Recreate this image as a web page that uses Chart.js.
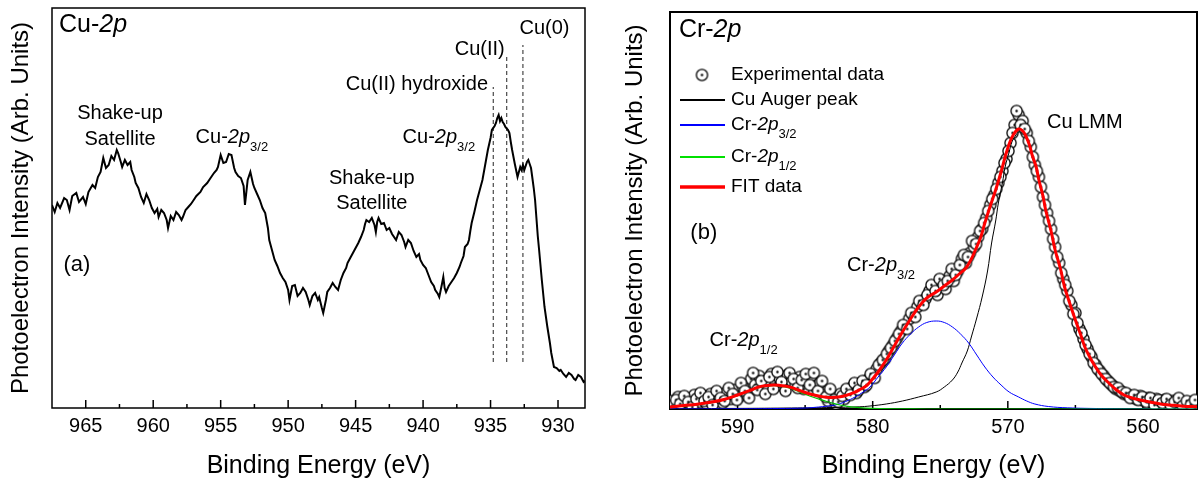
<!DOCTYPE html>
<html>
<head>
<meta charset="utf-8">
<script src="https://cdn.jsdelivr.net/npm/chart.js@4.4.1/dist/chart.umd.min.js"></script>
<style>
  html, body { margin: 0; padding: 0; background: #fff; }
  #wrap { position: relative; width: 1204px; height: 485px; }
  canvas { position: absolute; top: 0; }
  #cuChart { left: 0; }
  #crChart { left: 614px; }
</style>
</head>
<body>
<div id="wrap">
  <canvas id="cuChart" width="600" height="485"></canvas>
  <canvas id="crChart" width="590" height="485"></canvas>
</div>
<script>
// ---- panel (a): Cu-2p spectrum ----
var cuEnergy = [967.5,967.3,967.1,966.9,966.6,966.4,966.2,966.0,965.7,965.5,965.2,965.0,964.8,964.5,964.3,964.1,963.9,963.7,963.5,963.3,963.1,962.9,962.7,962.6,962.4,962.3,962.1,961.9,961.7,961.6,961.4,961.3,961.1,960.9,960.7,960.5,960.3,960.1,959.9,959.7,959.6,959.4,959.2,959.0,958.9,958.7,958.5,958.3,958.1,957.9,957.8,957.6,957.4,957.2,957.0,956.8,956.5,956.3,956.0,955.8,955.5,955.3,955.2,955.0,954.8,954.6,954.4,954.2,954.0,953.9,953.7,953.5,953.3,953.2,953.0,952.8,952.6,952.5,952.3,952.1,951.9,951.7,951.5,951.4,951.2,951.0,950.8,950.6,950.4,950.2,950.0,949.9,949.7,949.5,949.3,949.1,948.9,948.7,948.5,948.4,948.2,948.0,947.8,947.7,947.5,947.4,947.2,947.1,946.9,946.7,946.5,946.3,946.1,945.9,945.7,945.6,945.4,945.2,945.0,944.8,944.6,944.4,944.3,944.2,944.0,943.8,943.6,943.5,943.4,943.3,943.1,942.9,942.7,942.5,942.3,942.0,941.8,941.6,941.4,941.3,941.1,940.9,940.7,940.5,940.3,940.2,940.0,939.8,939.6,939.4,939.2,939.1,938.9,938.8,938.6,938.5,938.4,938.3,938.1,937.9,937.7,937.5,937.3,937.2,937.0,936.9,936.7,936.6,936.5,936.4,936.2,936.0,935.8,935.6,935.4,935.2,935.0,934.9,934.7,934.6,934.5,934.4,934.3,934.2,934.1,934.0,933.9,933.7,933.6,933.5,933.4,933.2,933.0,932.9,932.8,932.7,932.6,932.5,932.3,932.2,932.1,932.0,931.9,931.8,931.7,931.6,931.5,931.4,931.2,931.0,930.8,930.6,930.5,930.3,930.1,929.9,929.8,929.6,929.4,929.2,929.0,928.8,928.7,928.5,928.3,928.1,928.0];
var cuCounts = [203,196,205,200,210,208,198,212,215,206,211,204,216,223,220,231,236,250,240,243,252,248,258,255,246,241,248,243,246,238,231,225,220,211,205,214,208,200,195,199,191,198,195,188,180,192,188,196,193,188,191,198,201,204,208,212,216,221,225,229,235,238,241,253,245,246,254,253,240,236,232,230,222,203,228,236,224,220,214,208,200,195,180,168,158,148,142,135,130,126,118,108,122,123,112,115,120,116,108,103,112,115,108,111,100,95,108,116,120,125,121,118,128,135,140,145,150,155,160,165,171,178,184,188,186,190,183,176,186,190,184,185,178,180,174,168,176,173,166,161,168,165,157,151,154,148,143,140,133,126,122,118,114,111,124,131,120,116,122,126,130,135,141,145,152,161,164,168,177,185,196,208,218,228,243,258,270,278,282,285,290,293,287,290,286,284,281,278,275,266,258,244,231,236,241,238,243,238,246,248,244,240,230,220,208,190,172,158,128,101,82,65,55,41,40,37,38,34,31,35,33,29,28,33,31,26,27];
var cuTicks = [965, 960, 955, 950, 945, 940, 935, 930];
var cuMinorTicks = [962.5, 957.5, 952.5, 947.5, 942.5, 937.5, 932.5];
var cuRefEnergy = [934.8, 933.8, 932.6];   // Cu(II) hydroxide, Cu(II), Cu(0)
var cuRefTop = [321, 351, 363];
var cuRefBottom = 46;

// ---- panel (b): Cr-2p region ----
var expEnergy = [595.0,594.7,594.4,594.1,593.8,593.5,593.2,592.9,592.6,592.3,592.0,591.7,591.4,591.1,590.8,590.5,590.2,589.9,589.6,589.3,589.0,588.7,588.4,588.1,587.8,587.5,587.2,586.9,586.6,586.3,586.0,585.7,585.4,585.1,584.8,584.5,584.2,583.9,583.6,583.3,583.0,582.7,582.4,582.1,581.8,581.5,581.2,580.9,580.6,580.3,580.0,579.7,579.4,579.1,578.8,578.5,578.2,577.9,577.6,577.3,577.0,576.7,576.4,576.1,575.8,575.5,575.2,574.9,574.6,574.3,574.0,573.7,573.4,573.1,572.8,572.5,572.2,571.9,571.6,571.3,571.0,570.7,570.4,570.1,569.8,569.5,569.2,568.9,568.6,568.3,568.0,567.7,567.4,567.1,566.8,566.5,566.2,565.9,565.6,565.3,565.0,564.7,564.4,564.1,563.8,563.5,563.2,562.9,562.6,562.3,562.0,561.7,561.4,561.1,560.8,560.5,560.2,559.9,559.6,559.3,559.0,558.7,558.4,558.1,557.8,557.5,557.2,556.9,556.6,556.3,556.0];
var expCounts = [8,4,12,6,10,3,14,7,11,5,15,9,13,6,17,10,19,12,22,14,30,24,33,22,29,35,26,31,22,34,28,24,32,20,27,33,22,26,14,8,12,5,15,10,18,22,16,25,22,30,34,40,46,50,58,64,71,78,82,90,94,102,106,110,118,122,114,126,120,133,128,138,150,146,156,162,172,180,191,204,214,226,238,250,266,284,294,288,276,262,244,232,212,196,180,162,146,130,118,104,96,80,70,60,52,44,38,33,28,24,20,18,15,14,12,10,13,8,11,6,10,5,9,4,8,3,7,2,6,3,5];
var expEnergy2 = [594.85,594.55,594.25,593.95,593.65,593.35,593.05,592.75,592.45,592.15,591.85,591.55,591.25,590.95,590.65,590.35,590.05,589.75,589.45,589.15,588.85,588.55,588.25,587.95,587.65,587.35,587.05,586.75,586.45,586.15,585.85,585.55,585.25,584.95,584.65,584.35,584.05,583.75,583.45,583.15,582.85,582.55,582.25,581.95,581.65,581.35,581.05,580.75,580.45,580.15,579.85,579.55,579.25,578.95,578.65,578.35,578.05,577.75,577.45,577.15,576.85,576.55,576.25,575.95,575.65,575.35,575.05,574.75,574.45,574.15,573.85,573.55,573.25,572.95,572.65,572.35,572.05,571.75,571.45,571.15,570.85,570.55,570.25,569.95,569.65,569.35,569.05,568.75,568.45,568.15,567.85,567.55,567.25,566.95,566.65,566.35,566.05,565.75,565.45,565.15,564.85,564.55,564.25,563.95,563.65,563.35,563.05,562.75,562.45,562.15,561.85,561.55,561.25,560.95,560.65,560.35,560.05,559.75,559.45,559.15,558.85,558.55,558.25,557.95,557.65,557.35,557.05,556.75,556.45,556.15];
var expCounts2 = [3,9,5,13,7,2,10,16,8,12,4,18,11,8,21,15,9,26,18,11,36,19,28,15,32,20,37,27,18,36,30,21,29,35,24,36,18,28,12,20,9,7,13,20,14,26,19,28,24,35,31,44,49,55,61,68,75,84,80,96,92,108,104,114,124,118,130,124,128,140,134,144,154,152,168,165,178,186,198,210,220,232,246,258,276,298,284,280,268,252,238,222,204,188,170,152,136,124,108,95,86,76,64,55,46,40,35,30,26,22,21,17,16,11,14,9,12,7,11,4,9,6,10,4,7,11,3,8,4,9];

var fitEnergy = [595,594,593,592,591,590,589,588.5,588,587.3,586.5,586,585.5,585,584.5,584,583.4,583,582.4,582,581.4,581,580.5,580.2,579.6,579,578.4,577.8,577.2,576.6,576,575.3,574.7,574.1,573.6,573.1,572.7,572.4,572,571.7,571.3,570.9,570.5,570.2,569.9,569.6,569.2,568.9,568.7,568.4,568.2,567.9,567.7,567.4,567.2,566.8,566.5,566.1,565.8,565.4,565,564.6,564.3,563.9,563.6,563.1,562.6,562,561.4,560.8,560.2,559.5,558.7,558,557,556];
var fitCounts = [2,3.5,4.8,6.8,9.5,14,19,21.7,23.2,24,23,21.5,19,16.5,14.5,13,11.7,11.5,12.3,13.5,16.3,19,23,27,37,49,63,77,90,102,111,117,123,129,135,141,150,159,172,186,203,219,237,252,265,274,280,278,274,264,254,242,229,213,199,178,159,140,122,105,89,74,62,51,44,34,27,19.5,14,11,9,7,5,4,2.8,2.2];

var augerEnergy = [595,590,586,583,581,580.2,579,577.8,576.6,575.3,574.7,574.1,573.7,573.4,573,572.7,572.3,571.9,571.5,571.2,570.9,570.7,570.4,570.2,569.9,569.7,569.4,569.2,568.9,568.7,568.4,568.2,567.9,567.7,567.4,567.2,566.8,566.5,566.1,565.8,565.4,565,564.6,564.3,563.9,563.6,563.1,562.6,562,561.4,560.8,560.2,559.5,558.7,558,557,556];
var augerCounts = [0.3,0.6,1,1.5,2.2,3,5,8,12,17,22,29,37,46,58,72,91,112,138,166,188,206,226,242,257,267,274,277,276,272,263,252,240,227,212,198,177,158,139,121,104,88,73,61,50.5,43,33.5,26,19,13.5,10.5,8.5,6.8,4.8,3.8,2.7,2.1];

var p32Energy = [595,590,587,585,584,583,582.5,582,581.3,580.7,580.2,579.6,579,578.4,577.8,577.2,576.6,576,575.3,574.7,574.1,573.5,572.9,572.3,571.7,571.1,570.5,569.9,569.2,568.6,568,567,565.6,563,560,556];
var p32Counts = [0,0.2,0.5,1,2,3.5,5,7.5,12,17,22,32,42,54,66,75,82,86.5,88,86.5,82,75,66,54,42,32,24,17,12,8,5,2.5,1.2,0.4,0.1,0];

var p12Energy = [595,594,593,592,591,590,589,588.5,588,587.3,586.5,586,585.5,585,584.5,584,583.4,583,582.4,582,581.4,580.5,579.5,578,576,556];
var p12Counts = [1.7,2.8,4.2,6.2,9,13.4,18.5,21,22.6,23.3,22,20.2,17.5,14.8,12.2,10,7.5,6,4,3,1.8,0.8,0.3,0.1,0,0];

var crTicks = [590, 580, 570, 560];
var crMinorTicks = [585, 575, 565];

var FONT = '"Liberation Sans", Arial, Helvetica, sans-serif';

function pairs(xs, ys) {
    return xs.map(function(x, i) { return {x: x, y: ys[i]}; });
}

// draws "Cu-" + italic "2p" + subscript "3/2" style text
function drawRich(ctx, x, y, parts, size, align) {
    function fontFor(st) {
        if (st === 'i') return 'italic ' + size + 'px ' + FONT;
        if (st === 's') return Math.round(size * 0.66) + 'px ' + FONT;
        return size + 'px ' + FONT;
    }
    var w = 0;
    parts.forEach(function(p) { ctx.font = fontFor(p[1]); w += ctx.measureText(p[0]).width; });
    var cx = align === 'center' ? x - w / 2 : (align === 'right' ? x - w : x);
    ctx.textAlign = 'left';
    ctx.textBaseline = 'middle';
    ctx.fillStyle = '#000';
    parts.forEach(function(p) {
        ctx.font = fontFor(p[1]);
        ctx.fillText(p[0], cx, p[1] === 's' ? y + size * 0.5 : y);
        cx += ctx.measureText(p[0]).width;
    });
}

function framePlugin(major, minor, width) {
    return {
        id: 'frame',
        beforeDatasetsDraw: function(chart) {
            var ctx = chart.ctx, a = chart.chartArea, x = chart.scales.x;
            ctx.save();
            ctx.strokeStyle = '#000';
            ctx.lineWidth = width;
            ctx.strokeRect(a.left, a.top, a.right - a.left, a.bottom - a.top);
            ctx.lineWidth = 1.5;
            major.forEach(function(v) {
                var px = x.getPixelForValue(v);
                ctx.beginPath(); ctx.moveTo(px, a.bottom); ctx.lineTo(px, a.bottom - 8); ctx.stroke();
            });
            minor.forEach(function(v) {
                var px = x.getPixelForValue(v);
                ctx.beginPath(); ctx.moveTo(px, a.bottom); ctx.lineTo(px, a.bottom - 4); ctx.stroke();
            });
            ctx.restore();
        }
    };
}

function notesPlugin(notes) {
    return {
        id: 'notes',
        afterDatasetsDraw: function(chart) {
            var ctx = chart.ctx;
            ctx.save();
            notes.forEach(function(n) {
                drawRich(ctx, chart.scales.x.getPixelForValue(n.e), chart.scales.y.getPixelForValue(n.v), n.parts, n.size, n.align);
            });
            ctx.restore();
        }
    };
}

// open circle with a centre dot, like the Origin marker
function makeMarker() {
    var c = document.createElement('canvas');
    c.width = 15; c.height = 15;
    var g = c.getContext('2d');
    g.beginPath(); g.arc(7.5, 7.5, 5.6, 0, Math.PI * 2);
    g.fillStyle = '#fff'; g.fill();
    g.lineWidth = 1.3; g.strokeStyle = '#000'; g.stroke();
    g.beginPath(); g.arc(7.5, 7.5, 1.2, 0, Math.PI * 2);
    g.fillStyle = '#000'; g.fill();
    return c;
}
var marker = makeMarker();

function legendPlugin(rows) {
    return {
        id: 'crLegend',
        afterDatasetsDraw: function(chart) {
            var ctx = chart.ctx, a = chart.chartArea;
            ctx.save();
            rows.forEach(function(r) {
                var y = a.top + r.dy;
                if (r.marker) {
                    ctx.drawImage(marker, a.left + 32 - 7.5, y - 7.5);
                } else {
                    ctx.strokeStyle = r.color;
                    ctx.lineWidth = r.width;
                    ctx.beginPath(); ctx.moveTo(a.left + 10, y); ctx.lineTo(a.left + 55, y); ctx.stroke();
                }
                drawRich(ctx, a.left + 61, y, r.parts, 19, 'left');
            });
            ctx.restore();
        }
    };
}

function xScale(min, max, ticks, height) {
    return {
        type: 'linear',
        reverse: true,
        min: min,
        max: max,
        afterBuildTicks: function(s) { s.ticks = ticks.map(function(v) { return {value: v}; }); },
        afterFit: function(s) { s.height = height; },
        grid: { display: false, drawTicks: false },
        border: { display: false },
        ticks: { color: '#000', font: { size: 20, family: FONT }, padding: 6, maxRotation: 0, autoSkip: false },
        title: { display: true, text: 'Binding Energy (eV)', color: '#000', font: { size: 25, family: FONT }, padding: { top: 0, bottom: 4 } }
    };
}

function yScale(max, width) {
    return {
        min: 0,
        max: max,
        afterFit: function(s) { s.width = width; },
        grid: { display: false, drawTicks: false },
        border: { display: false },
        ticks: { display: false },
        title: { display: true, text: 'Photoelectron Intensity (Arb. Units)', color: '#000', font: { size: 24, family: FONT }, padding: { top: 7, bottom: 0 } }
    };
}

// ---- chart (a) ----
var cuDatasets = [
    { data: pairs(cuEnergy, cuCounts), borderColor: '#000', borderWidth: 2, pointRadius: 0, tension: 0 }
];
cuRefEnergy.forEach(function(e, i) {
    cuDatasets.push({
        data: [{x: e, y: cuRefBottom}, {x: e, y: cuRefTop[i]}],
        borderColor: '#222', borderWidth: 1, borderDash: [4, 3], pointRadius: 0
    });
});

var cuNotes = [
    { e: 966.98, v: 383, parts: [['Cu-', 'n'], ['2p', 'i']], size: 25, align: 'left' },
    { e: 962.46, v: 295, parts: [['Shake-up', 'n']], size: 20, align: 'center' },
    { e: 962.46, v: 269, parts: [['Satellite', 'n']], size: 20, align: 'center' },
    { e: 954.17, v: 271, parts: [['Cu-', 'n'], ['2p', 'i'], ['3/2', 's']], size: 20, align: 'center' },
    { e: 943.8, v: 230, parts: [['Shake-up', 'n']], size: 20, align: 'center' },
    { e: 943.8, v: 205, parts: [['Satellite', 'n']], size: 20, align: 'center' },
    { e: 938.83, v: 271, parts: [['Cu-', 'n'], ['2p', 'i'], ['3/2', 's']], size: 20, align: 'center' },
    { e: 940.46, v: 324, parts: [['Cu(II) hydroxide', 'n']], size: 20, align: 'center' },
    { e: 935.8, v: 359, parts: [['Cu(II)', 'n']], size: 20, align: 'center' },
    { e: 931.0, v: 380, parts: [['Cu(0)', 'n']], size: 20, align: 'center' },
    { e: 965.65, v: 143, parts: [['(a)', 'n']], size: 22, align: 'center' }
];

new Chart(document.getElementById('cuChart'), {
    type: 'line',
    data: { datasets: cuDatasets },
    options: {
        responsive: false,
        animation: false,
        events: [],
        layout: { padding: { top: 8, right: 15, left: 0, bottom: 0 } },
        plugins: { legend: { display: false }, tooltip: { enabled: false } },
        scales: {
            x: xScale(928, 967.5, cuTicks, 77),
            y: yScale(400, 52)
        }
    },
    plugins: [framePlugin(cuTicks, cuMinorTicks, 1.5), notesPlugin(cuNotes)]
});

// ---- chart (b) ----
var crNotes = [
    { e: 594.34, v: 379, parts: [['Cr-', 'n'], ['2p', 'i']], size: 25, align: 'left' },
    { e: 592.5, v: 176, parts: [['(b)', 'n']], size: 22, align: 'center' },
    { e: 564.3, v: 287, parts: [['Cu LMM', 'n']], size: 20, align: 'center' },
    { e: 581.9, v: 144, parts: [['Cr-', 'n'], ['2p', 'i'], ['3/2', 's']], size: 20, align: 'left' },
    { e: 592.07, v: 69, parts: [['Cr-', 'n'], ['2p', 'i'], ['1/2', 's']], size: 20, align: 'left' }
];

var crLegendRows = [
    { dy: 63, marker: true, parts: [['Experimental data', 'n']] },
    { dy: 88, color: '#000', width: 2, parts: [['Cu Auger peak', 'n']] },
    { dy: 113, color: '#0000ff', width: 2, parts: [['Cr-', 'n'], ['2p', 'i'], ['3/2', 's']] },
    { dy: 145, color: '#00e000', width: 2, parts: [['Cr-', 'n'], ['2p', 'i'], ['1/2', 's']] },
    { dy: 175, color: '#ff0000', width: 3.5, parts: [['FIT data', 'n']] }
];

var expPoints = pairs(expEnergy, expCounts).concat(pairs(expEnergy2, expCounts2));

new Chart(document.getElementById('crChart'), {
    type: 'line',
    data: {
        datasets: [
            { label: 'FIT data', data: pairs(fitEnergy, fitCounts), borderColor: '#ff0000', borderWidth: 3, pointRadius: 0, tension: 0.4 },
            { label: 'Cr-2p1/2', data: pairs(p12Energy, p12Counts), borderColor: '#00c000', borderWidth: 1.2, pointRadius: 0, tension: 0.4 },
            { label: 'Cr-2p3/2', data: pairs(p32Energy, p32Counts), borderColor: '#0000ff', borderWidth: 1, pointRadius: 0, tension: 0.4 },
            { label: 'Cu Auger peak', data: pairs(augerEnergy, augerCounts), borderColor: '#000', borderWidth: 1, pointRadius: 0, tension: 0.4 },
            { label: 'Experimental data', data: expPoints, showLine: false, pointStyle: marker, pointRadius: 6 }
        ]
    },
    options: {
        responsive: false,
        animation: false,
        events: [],
        layout: { padding: { top: 12, right: 3, left: 0, bottom: 0 } },
        plugins: { legend: { display: false }, tooltip: { enabled: false } },
        scales: {
            x: xScale(556, 595, crTicks, 76),
            y: yScale(397, 56)
        }
    },
    plugins: [framePlugin(crTicks, crMinorTicks, 2), notesPlugin(crNotes), legendPlugin(crLegendRows)]
});
</script>
</body>
</html>
